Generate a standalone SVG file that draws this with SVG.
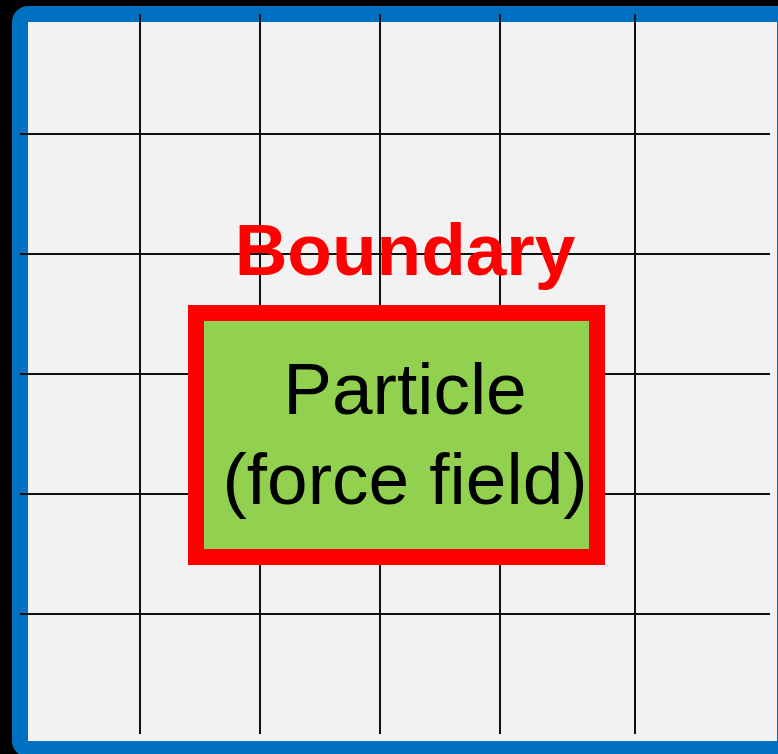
<svg xmlns="http://www.w3.org/2000/svg" width="778" height="754" viewBox="0 0 778 754">
  <style>
    .grid line { stroke: #111111; stroke-width: 2; }
    .lbl { font-family: "Liberation Sans", Arial, sans-serif; font-size: 73px; text-anchor: middle; }
  </style>
  <rect x="0" y="0" width="778" height="754" fill="#000000"/>
  <g id="domain">
    <rect x="20" y="14" width="765" height="735" rx="8" fill="#f2f2f2" stroke="#0070c0" stroke-width="16"/>
  </g>
  <g id="connectors" class="grid">
    <line x1="140" y1="14" x2="140" y2="734"/>
    <line x1="260" y1="14" x2="260" y2="734"/>
    <line x1="380" y1="14" x2="380" y2="734"/>
    <line x1="500" y1="14" x2="500" y2="734"/>
    <line x1="635" y1="14" x2="635" y2="734"/>
    <line x1="20" y1="134" x2="770" y2="134"/>
    <line x1="20" y1="254" x2="770" y2="254"/>
    <line x1="20" y1="374" x2="770" y2="374"/>
    <line x1="20" y1="494" x2="770" y2="494"/>
    <line x1="20" y1="614" x2="770" y2="614"/>
  </g>
  <g id="boundary-label">
    <text class="lbl" x="405" y="275" fill="#ff0000" font-weight="bold">Boundary</text>
  </g>
  <g id="particle">
    <rect x="196" y="313" width="401" height="244" fill="#92d050" stroke="#ff0000" stroke-width="16"/>
    <text class="lbl" x="405" y="414" fill="#000000">Particle</text>
    <text class="lbl" x="405" y="504" fill="#000000">(force field)</text>
  </g>
</svg>
